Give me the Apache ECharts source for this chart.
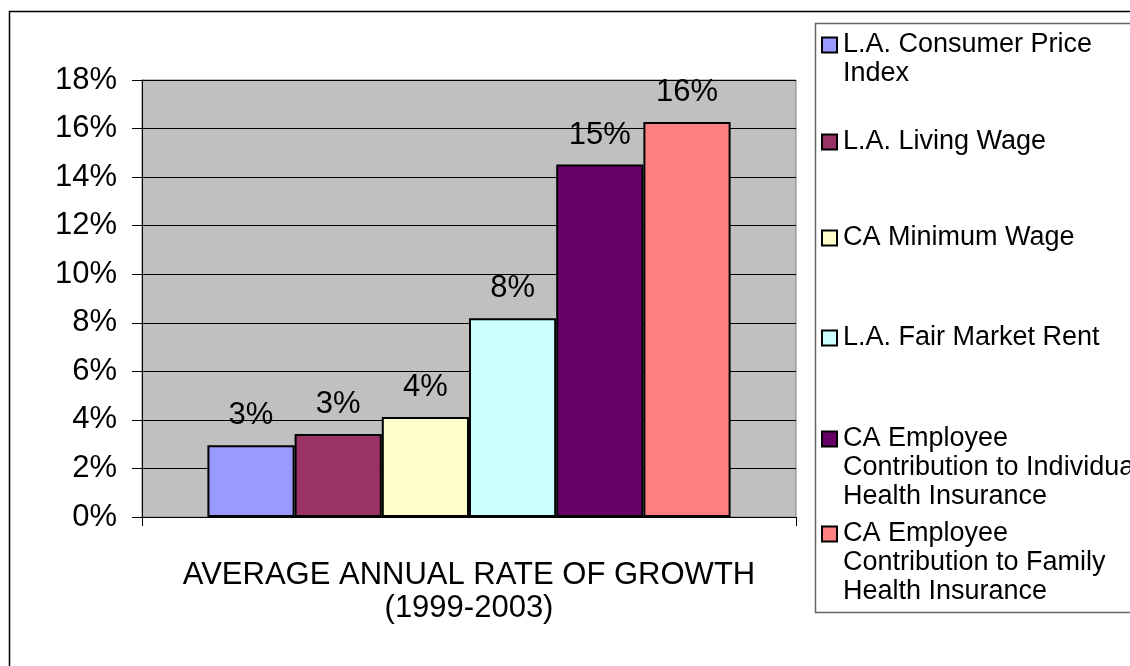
<!DOCTYPE html>
<html>
<head>
<meta charset="utf-8">
<script src="https://cdn.jsdelivr.net/npm/echarts@6/dist/echarts.min.js"></script>
<style>
  html, body { margin: 0; padding: 0; background: #fff; }
  #chart { width: 1130px; height: 666px; }
</style>
</head>
<body>
<div id="chart"></div>
<script>
// category on x axis
var categories = ["AVERAGE ANNUAL RATE OF GROWTH\n(1999-2003)"];
// series names and their values (percent)
var seriesNames = [
  "L.A. Consumer Price Index",
  "L.A. Living Wage",
  "CA Minimum Wage",
  "L.A. Fair Market Rent",
  "CA Employee Contribution to Individual Health Insurance",
  "CA Employee Contribution to Family Health Insurance"
];
var seriesValues = [2.96, 3.42, 4.12, 8.19, 14.52, 16.27];
// legend text as wrapped in the picture
var legendLines = [
  ["L.A. Consumer Price", "Index"],
  ["L.A. Living Wage"],
  ["CA Minimum Wage"],
  ["L.A. Fair Market Rent"],
  ["CA Employee", "Contribution to Individual", "Health Insurance"],
  ["CA Employee", "Contribution to Family", "Health Insurance"]
];
var colors = ["#9999ff", "#993366", "#ffffcc", "#ccffff", "#660066", "#ff8080"];

var FONT = "'Liberation Sans', Arial, sans-serif";
var LH = 29;
// y of the legend icon centres
var legendY = [45, 142, 238, 338, 439, 534];

var chart = echarts.init(document.getElementById("chart"));

var series = seriesNames.map(function (name, i) {
  return {
    name: name,
    type: "bar",
    data: [seriesValues[i]],
    barGap: "0%",
    barCategoryGap: "20%",
    itemStyle: { color: colors[i], borderColor: "#000", borderWidth: 2 },
    label: {
      show: true,
      position: "top",
      distance: 14,
      color: "#000",
      fontFamily: FONT,
      fontSize: 31,
      formatter: function (p) { return Math.round(p.value) + "%"; }
    }
  };
});

// one legend per entry so the uneven spacing can be kept
var legends = seriesNames.map(function (name, i) {
  var lines = legendLines[i];
  var pad = [];
  for (var k = 1; k < lines.length; k++) pad.push("");
  var text = pad.concat(lines).join("\n");
  var blockLines = lines.length * 2 - 1;
  return {
    data: [name],
    left: 821,
    top: legendY[i] - (blockLines * LH) / 2,
    padding: 0,
    icon: "rect",
    itemWidth: 15,
    itemHeight: 15,
    itemGap: 0,
    itemStyle: { borderColor: "#000", borderWidth: 2 },
    textStyle: {
      color: "#000",
      fontFamily: FONT,
      fontSize: 27,
      lineHeight: LH,
      padding: [0, 0, 0, 1]
    },
    formatter: function () { return text; }
  };
});

var option = {
  animation: false,
  backgroundColor: "#fff",
  grid: {
    left: 142, right: 334, top: 80, bottom: 149,
    show: true,
    backgroundColor: "#c0c0c0",
    borderColor: "#808080",
    borderWidth: 1
  },
  legend: legends,
  xAxis: {
    type: "category",
    data: categories,
    axisLine: { lineStyle: { color: "#000", width: 1 } },
    axisTick: { show: true, length: 9, lineStyle: { color: "#000" } },
    axisLabel: {
      color: "#000",
      fontFamily: FONT,
      fontSize: 31,
      lineHeight: 33,
      margin: 42
    }
  },
  yAxis: {
    type: "value",
    min: 0,
    max: 18,
    interval: 2,
    axisLine: { show: true, lineStyle: { color: "#000", width: 1 } },
    axisTick: { show: true, length: 10, lineStyle: { color: "#000" } },
    splitLine: { show: true, lineStyle: { color: "#000", width: 1 } },
    axisLabel: {
      color: "#000",
      fontFamily: FONT,
      fontSize: 31,
      margin: 25,
      formatter: "{value}%"
    }
  },
  graphic: [
    {
      type: "rect",
      z: -10,
      shape: { x: 9.5, y: 11.5, width: 1300, height: 900 },
      style: { fill: "none", stroke: "#000", lineWidth: 1.5 }
    },
    {
      type: "rect",
      z: -10,
      shape: { x: 815.5, y: 23.5, width: 500, height: 589 },
      style: { fill: "#fff", stroke: "#666", lineWidth: 1.5 }
    }
  ],
  series: series
};

chart.setOption(option);
</script>
</body>
</html>
